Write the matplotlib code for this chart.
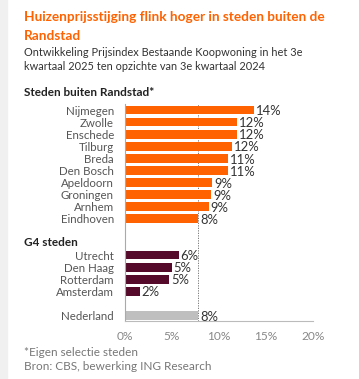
import matplotlib.pyplot as plt
from matplotlib.patches import Rectangle

######## Dados ########
steden = ["Nijmegen", "Zwolle", "Enschede", "Tilburg", "Breda", "Den Bosch",
          "Apeldoorn", "Groningen", "Arnhem", "Eindhoven"]
steden_waarde = [13.7, 11.9, 11.9, 11.4, 11.0, 11.0, 9.3, 9.2, 8.9, 7.8]
steden_label = ["14%", "12%", "12%", "12%", "11%", "11%", "9%", "9%", "9%", "8%"]

g4 = ["Utrecht", "Den Haag", "Rotterdam", "Amsterdam"]
g4_waarde = [5.7, 5.0, 4.7, 1.6]
g4_label = ["6%", "5%", "5%", "2%"]

nl = ["Nederland"]
nl_waarde = [7.8]
nl_label = ["8%"]

x_ticks = [0, 5, 10, 15, 20]
x_ticklabels = ["0%", "5%", "10%", "15%", "20%"]

ORANJE = "#FF6200"
BORDEAUX = "#560A2B"
GRIJS = "#BFBFBF"

plt.rcParams["font.family"] = ["Lato", "DejaVu Sans"]

W, H = 359, 379
fig = plt.figure(figsize=(W / 100, H / 100), dpi=100)
fig.patches.append(Rectangle((0, 0), 7 / W, 1, transform=fig.transFigure,
                             color="#F0F0F0", zorder=0))

# posições das linhas
pos_steden = list(range(len(steden)))
pos_g4 = [12 + i for i in range(len(g4))]
pos_nl = [17]

ax = fig.add_axes([125 / W, 1 - 321 / H, 188 / W, (321 - 104) / H])

ax.barh(pos_steden, steden_waarde, height=0.72, color=ORANJE)
ax.barh(pos_g4, g4_waarde, height=0.72, color=BORDEAUX)
ax.barh(pos_nl, nl_waarde, height=0.72, color=GRIJS)

for pos, val, lab in zip(pos_steden + pos_g4 + pos_nl,
                         steden_waarde + g4_waarde + nl_waarde,
                         steden_label + g4_label + nl_label):
    ax.annotate(lab, (val, pos), xytext=(1.2, -0.8), textcoords="offset points",
                ha="left", va="center", fontsize=9.4, color="#333333")

ax.axvline(nl_waarde[0], color="#666666", lw=0.6, ls=(0, (1.5, 1.5)), zorder=0)

ax.set_xlim(0, 20)
ax.set_ylim(17.45, -0.5)
ax.set_yticks(pos_steden + pos_g4 + pos_nl)
ax.set_yticklabels(steden + g4 + nl, fontsize=8.3, color="#555555")
ax.set_xticks(x_ticks)
ax.set_xticklabels(x_ticklabels, fontsize=8.6, color="#888888")
ax.tick_params(axis="both", length=0)
ax.tick_params(axis="y", pad=8)
ax.tick_params(axis="x", pad=7)

for s in ["top", "right"]:
    ax.spines[s].set_visible(False)
ax.spines["left"].set_color("#AAAAAA")
ax.spines["bottom"].set_color("#BBBBBB")
ax.spines["left"].set_linewidth(0.8)
ax.spines["bottom"].set_linewidth(0.8)

######## Títulos ########
fig.text(24 / W, 1 - 17 / H, "Huizenprijsstijging flink hoger in steden buiten de",
         fontsize=9.8, fontweight="bold", color=ORANJE, va="center")
fig.text(24 / W, 1 - 36 / H, "Randstad",
         fontsize=9.8, fontweight="bold", color=ORANJE, va="center")
fig.text(24 / W, 1 - 52 / H, "Ontwikkeling Prijsindex Bestaande Koopwoning in het 3e",
         fontsize=7.9, color="#333333", va="center")
fig.text(24 / W, 1 - 66 / H, "kwartaal 2025 ten opzichte van 3e kwartaal 2024",
         fontsize=7.9, color="#333333", va="center")

fig.text(24 / W, 1 - 93 / H, "Steden buiten Randstad*",
         fontsize=8.5, fontweight="bold", color="#222222", va="center")
fig.text(24 / W, 1 - 242 / H, "G4 steden",
         fontsize=8.5, fontweight="bold", color="#222222", va="center")

fig.text(24 / W, 1 - 353 / H, "*Eigen selectie steden",
         fontsize=8.5, color="#777777", va="center")
fig.text(24 / W, 1 - 367 / H, "Bron: CBS, bewerking ING Research",
         fontsize=8.5, color="#777777", va="center")

fig.savefig("out.png", dpi=100)
